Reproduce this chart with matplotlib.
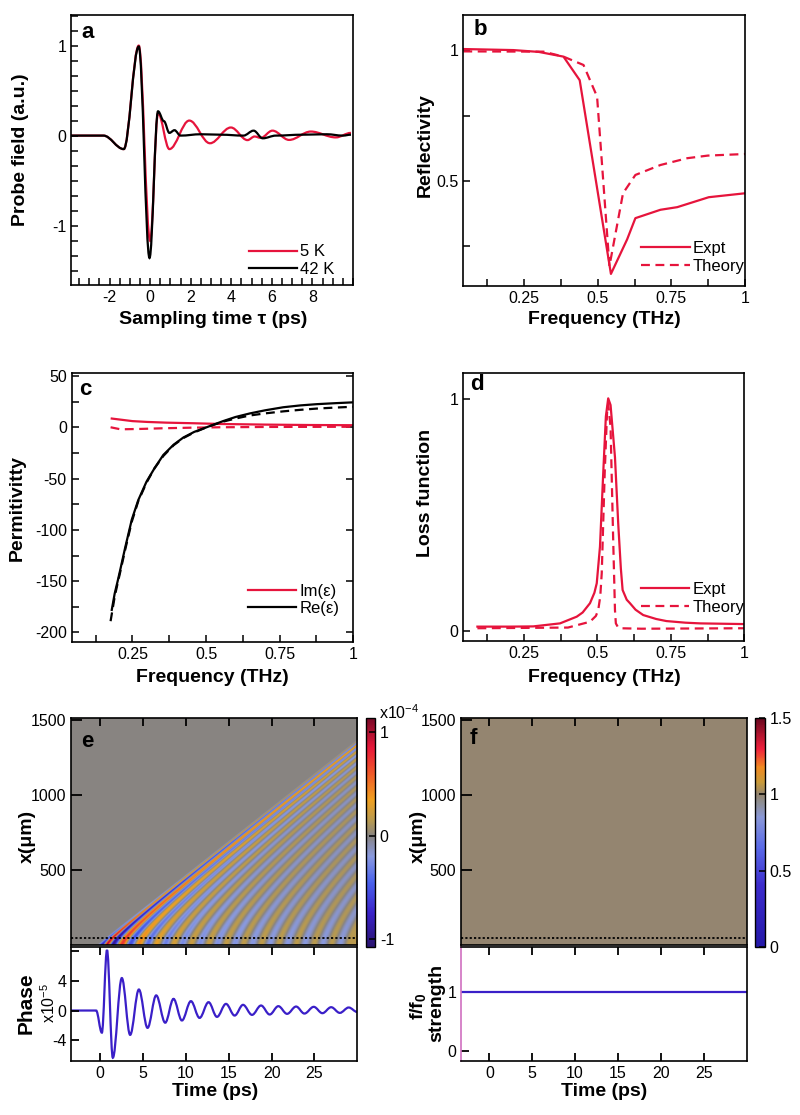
import numpy as np
import matplotlib
matplotlib.use('Agg')
import matplotlib.pyplot as plt
from matplotlib.path import Path
from matplotlib.patches import PathPatch
from matplotlib.lines import Line2D
from matplotlib.colors import LinearSegmentedColormap, Normalize
from matplotlib.ticker import MultipleLocator, FixedLocator, FormatStrFormatter

plt.rcParams['font.family'] = ['Liberation Sans', 'DejaVu Sans']
plt.rcParams['mathtext.fontset'] = 'custom'
plt.rcParams['mathtext.rm'] = 'Liberation Sans'
plt.rcParams['mathtext.bf'] = 'Liberation Sans:bold'
plt.rcParams['axes.unicode_minus'] = False
plt.rcParams['axes.linewidth'] = 1.2
plt.rcParams['xtick.direction'] = 'in'
plt.rcParams['ytick.direction'] = 'in'
plt.rcParams['xtick.labelsize'] = 11.5
plt.rcParams['ytick.labelsize'] = 11.5

RED = '#e6143c'
BLUE = '#3a1fc8'

# ---- panel a: probe field (extrema)
a_t_5K = [-3.9, -2.3, -1.3, -0.56, 0.0, 0.39, 0.95, 1.93, 2.95, 3.98, 4.8, 5.15, 5.45, 6.03, 6.85, 7.92, 9.15, 9.9]
a_v_5K = [0.0, 0.0, -0.15, 1.0, -1.17, 0.25, -0.15, 0.167, -0.085, 0.09, -0.05, -0.01, -0.025, 0.055, -0.048, 0.045, -0.02, 0.03]
a_t_42K = [-3.9, -2.3, -1.3, -0.56, -0.03, 0.39, 0.68, 0.95, 1.2, 1.5, 2.5, 3.5, 4.6, 5.1, 5.55, 6.2, 7.5, 8.7, 9.5, 9.9]
a_v_42K = [0.0, 0.0, -0.15, 0.99, -1.36, 0.27, 0.16, 0.03, 0.06, 0.0, 0.015, 0.01, 0.0, 0.055, -0.03, 0.0, 0.01, 0.015, 0.0, 0.01]

# ---- panel b: reflectivity
b_f_expt = [0.044, 0.214, 0.3, 0.384, 0.439, 0.545, 0.6, 0.628, 0.713, 0.77, 0.877, 1.0]
b_r_expt = [1.004, 1.0, 0.993, 0.975, 0.885, 0.145, 0.277, 0.358, 0.39, 0.40, 0.438, 0.453]
b_f_theory = [0.044, 0.316, 0.384, 0.452, 0.498, 0.54, 0.586, 0.628, 0.713, 0.804, 0.874, 1.0]
b_r_theory = [0.995, 0.994, 0.975, 0.943, 0.822, 0.175, 0.453, 0.523, 0.561, 0.587, 0.597, 0.603]

# ---- panel c: permittivity
c_f_re = [0.18, 0.19, 0.2, 0.208, 0.225, 0.248, 0.27, 0.298, 0.325, 0.355, 0.39, 0.423, 0.46, 0.502, 0.558, 0.6, 0.649, 0.7, 0.762, 0.82, 0.875, 0.94, 1.0]
c_re_expt = [-178, -162, -150, -140, -118, -90, -71, -53, -40, -27, -17, -10, -4.5, 0, 6, 10, 13.5, 16.5, 19.5, 21.3, 22.5, 23.5, 24.3]
c_f_re_th = [0.176, 0.19, 0.2, 0.208, 0.225, 0.248, 0.27, 0.298, 0.325, 0.355, 0.39, 0.423, 0.46, 0.502, 0.558, 0.6, 0.649, 0.7, 0.762, 0.82, 0.875, 0.94, 1.0]
c_re_theory = [-189, -165, -152, -142, -120, -92, -72, -54, -40, -28, -17.5, -10.5, -5, 0, 5.5, 8.5, 11.5, 13.5, 15.5, 17, 18.2, 19.2, 20]
c_f_im = [0.18, 0.25, 0.3, 0.366, 0.46, 0.55, 0.7, 0.85, 1.0]
c_im_expt = [8.5, 6, 5.2, 4.5, 3.9, 3.2, 2.6, 2.2, 2.0]
c_f_im_th = [0.176, 0.21, 0.28, 0.35, 0.45, 0.55, 0.7, 1.0]
c_im_theory = [0, -2, -1.6, -1, -0.4, 0, 0.3, 0.5]

# ---- panel d: loss function
d_f_expt = [0.092, 0.2, 0.282, 0.373, 0.43, 0.45, 0.475, 0.49, 0.498, 0.509, 0.52, 0.529, 0.537, 0.545, 0.56,
            0.571, 0.58, 0.586, 0.6, 0.611, 0.63, 0.656, 0.7, 0.735, 0.8, 0.85, 1.0]
d_l_expt = [0.019, 0.019, 0.02, 0.033, 0.062, 0.08, 0.12, 0.165, 0.206, 0.364, 0.68, 0.925, 1.004, 0.975, 0.75,
            0.465, 0.27, 0.177, 0.135, 0.12, 0.092, 0.069, 0.052, 0.043, 0.036, 0.033, 0.03]
d_f_theory = [0.092, 0.4, 0.475, 0.495, 0.503, 0.51, 0.515, 0.525, 0.533, 0.537, 0.545, 0.554, 0.56, 0.563, 0.57, 0.577, 0.65, 1.0]
d_l_theory = [0.012, 0.015, 0.04, 0.065, 0.09, 0.15, 0.25, 0.68, 0.94, 0.98, 0.88, 0.39, 0.09, 0.033, 0.017, 0.012, 0.01, 0.012]

# ---- panel e: phase trace extrema (x1e-5)
e_t = [-3.4, -0.47, 0.2, 0.8, 1.48, 2.53, 3.5, 4.52, 5.53, 6.54, 7.59, 8.56, 9.54, 10.59, 11.6, 12.65, 13.63, 14.68,
       15.69, 16.67, 17.72, 18.77, 19.78, 20.79, 21.81, 22.86, 23.83, 24.92, 25.93, 26.95, 27.96, 29.0, 30.0]
e_phase = [0, 0, -3.0, 8.2, -6.4, 4.4, -3.3, 2.85, -2.35, 2.05, -1.65, 1.58, -1.35, 1.27, -1.0, 1.13, -0.86, 0.9,
           -0.68, 0.77, -0.59, 0.68, -0.54, 0.59, -0.45, 0.54, -0.41, 0.5, -0.36, 0.45, -0.32, 0.41, -0.2]
# heat map: band times at x=0, band amplitudes (x1e-4), front speed and onset, decay with x
heat_t = [-0.47, 0.2, 0.8, 1.48, 2.53, 3.5, 4.52, 5.53, 6.54, 7.59, 8.56, 9.54, 10.59, 11.6, 12.65, 13.63, 14.68,
          15.69, 16.67, 17.72, 18.77, 19.78, 20.79, 21.81, 22.86, 23.83, 24.92, 25.93, 26.95, 27.96, 29.0]
heat_amp = [0.0, -1.0, 1.0, -0.95, 0.75, -0.55, 0.45, -0.4, 0.32, -0.32, 0.26, -0.27, 0.22, -0.25, 0.2, -0.24,
            0.19, -0.23, 0.18, -0.22, 0.18, -0.21, 0.17, -0.21, 0.17, -0.2, 0.16, -0.2, 0.16, -0.19, 0.16]
front_speed = 45.0   # um/ps
front_onset = -0.5   # ps
front_soft = 0.8     # ps
band_shape = 1.4     # bending of the bands
env_x = [0, 200, 500, 1000, 1500]
env_amp = [1.0, 0.8, 0.65, 0.55, 0.5]
probe_x = 45

# ---- panel f
f_t = [-3.3, 30.0]
f_strength = [1.0, 1.0]


def smooth_curve(ax, t, v, **kw):
    # cubic pieces with flat tangents at each read extremum
    verts = [(t[0], v[0])]
    codes = [Path.MOVETO]
    for i in range(1, len(t)):
        dt = t[i] - t[i - 1]
        verts += [(t[i - 1] + 0.36 * dt, v[i - 1]), (t[i] - 0.36 * dt, v[i]), (t[i], v[i])]
        codes += [Path.CURVE4] * 3
    ax.add_patch(PathPatch(Path(verts, codes), fill=False, **kw))


def halfcos(tq, tk, ak):
    tk = np.asarray(tk)
    ak = np.asarray(ak)
    tq = np.clip(tq, tk[0], tk[-1] - 1e-9)
    i = np.searchsorted(tk, tq, side='right') - 1
    i = np.clip(i, 0, len(tk) - 2)
    fr = (tq - tk[i]) / (tk[i + 1] - tk[i])
    w = (1 - np.cos(np.pi * fr)) / 2
    return ak[i] + (ak[i + 1] - ak[i]) * w


W, H = 800, 1115
fig = plt.figure(figsize=(8, 11.15), dpi=100)


def box(l, t, r, b):
    return [l / W, 1 - b / H, (r - l) / W, (b - t) / H]


def ftext(x, y, s, **kw):
    fig.text(x / W, 1 - y / H, s, **kw)


lab = dict(fontsize=14, fontweight='bold', ha='center', va='center')
let = dict(fontsize=16, fontweight='bold', ha='left', va='top')
leg_kw = dict(frameon=False, fontsize=12, handlelength=2.9, handletextpad=0.2, labelspacing=0.15,
              borderaxespad=0, borderpad=0)

# ---------------- a
ax = fig.add_axes(box(71, 15, 353, 285))
smooth_curve(ax, a_t_5K, a_v_5K, color=RED, lw=1.6)
smooth_curve(ax, a_t_42K, a_v_42K, color='k', lw=1.6)
ax.set_xlim(-3.9, 10)
ax.set_ylim(-1.66, 1.34)
ax.xaxis.set_major_locator(FixedLocator([-2, 0, 2, 4, 6, 8]))
ax.xaxis.set_minor_locator(MultipleLocator(0.5))
ax.yaxis.set_major_locator(FixedLocator([-1, 0, 1]))
ax.yaxis.set_minor_locator(MultipleLocator(1 / 6))
ax.tick_params(which='both', length=5, width=1.1)
ax.legend([Line2D([], [], color=RED, lw=1.6), Line2D([], [], color='k', lw=1.6)], ['5 K', '42 K'],
          loc='lower right', bbox_to_anchor=(0.935, 0.03), **leg_kw)
ftext(20.5, 150, 'Probe field (a.u.)', rotation=90, **lab)
ftext(213, 320, 'Sampling time τ (ps)', **lab)
ftext(81, 22, 'a', **let)

# ---------------- b
ax = fig.add_axes(box(463.3, 15, 745, 285.7))
ax.plot(b_f_expt, b_r_expt, color=RED, lw=1.6)
ax.plot(b_f_theory, b_r_theory, color=RED, lw=1.6, ls=(0, (4, 2.5)))
ax.set_xlim(0.044, 1.0)
ax.set_ylim(0.1, 1.134)
ax.xaxis.set_major_locator(FixedLocator([0.25, 0.5, 0.75, 1.0]))
ax.xaxis.set_minor_locator(MultipleLocator(0.125))
ax.yaxis.set_major_locator(FixedLocator([0.5, 1.0]))
ax.yaxis.set_minor_locator(FixedLocator([0.25, 0.75]))
ax.xaxis.set_major_formatter(FormatStrFormatter('%g'))
ax.yaxis.set_major_formatter(FormatStrFormatter('%g'))
ax.tick_params(which='both', length=5, width=1.1)
ax.legend([Line2D([], [], color=RED, lw=1.6), Line2D([], [], color=RED, lw=1.6, ls=(0, (4, 2.5)))],
          ['Expt', 'Theory'], loc='lower right', bbox_to_anchor=(1.0, 0.045), **leg_kw)
ftext(425.5, 145, 'Reflectivity', rotation=90, **lab)
ftext(604, 320, 'Frequency (THz)', **lab)
ftext(474, 19, 'b', **let)

# ---------------- c
ax = fig.add_axes(box(71.7, 373.3, 353.3, 641.7))
ax.plot(c_f_im, c_im_expt, color=RED, lw=1.6)
ax.plot(c_f_im_th, c_im_theory, color=RED, lw=1.6, ls=(0, (4, 2.5)))
ax.plot(c_f_re, c_re_expt, color='k', lw=1.6)
ax.plot(c_f_re_th, c_re_theory, color='k', lw=1.6, ls=(0, (4, 2.5)))
ax.set_xlim(0.044, 1.0)
ax.set_ylim(-209, 52.6)
ax.xaxis.set_major_locator(FixedLocator([0.25, 0.5, 0.75, 1.0]))
ax.xaxis.set_minor_locator(MultipleLocator(0.125))
ax.yaxis.set_major_locator(MultipleLocator(50))
ax.yaxis.set_minor_locator(MultipleLocator(25))
ax.xaxis.set_major_formatter(FormatStrFormatter('%g'))
ax.tick_params(which='both', length=5, width=1.1)
ax.tick_params(axis='y', which='major', right=True)
ax.legend([Line2D([], [], color=RED, lw=1.6), Line2D([], [], color='k', lw=1.6)], ['Im(ε)', 'Re(ε)'],
          loc='lower right', bbox_to_anchor=(0.952, 0.095), **leg_kw)
ftext(17.5, 508, 'Permitivitty', rotation=90, **lab)
ftext(212.5, 677, 'Frequency (THz)', **lab)
ftext(79, 379, 'c', **let)

# ---------------- d
ax = fig.add_axes(box(463.3, 373.3, 744.3, 641))
ax.plot(d_f_expt, d_l_expt, color=RED, lw=1.6)
ax.plot(d_f_theory, d_l_theory, color=RED, lw=1.6, ls=(0, (4, 2.5)))
ax.set_xlim(0.044, 1.0)
ax.set_ylim(-0.043, 1.112)
ax.xaxis.set_major_locator(FixedLocator([0.25, 0.5, 0.75, 1.0]))
ax.xaxis.set_minor_locator(MultipleLocator(0.125))
ax.yaxis.set_major_locator(FixedLocator([0, 1]))
ax.xaxis.set_major_formatter(FormatStrFormatter('%g'))
ax.tick_params(which='both', length=5, width=1.1)
ax.legend([Line2D([], [], color=RED, lw=1.6), Line2D([], [], color=RED, lw=1.6, ls=(0, (4, 2.5)))],
          ['Expt', 'Theory'], loc='lower right', bbox_to_anchor=(1.0, 0.098), **leg_kw)
ftext(425.5, 492.5, 'Loss function', rotation=90, **lab)
ftext(604.5, 677, 'Frequency (THz)', **lab)
ftext(470, 374, 'd', **let)

# ---------------- e heat map
e_vmin, e_vmax = -1.07, 1.135
e_stops = [-1.07, -0.75, -0.45, -0.2, 0.0, 0.15, 0.35, 0.6, 0.85, 1.135]
e_cols = ['#2a1470', '#3a22c8', '#4a62ec', '#8a9ae0', '#888482', '#b89a50', '#f0a020', '#f05a28', '#e8183a', '#7a0a28']
cmap_e = LinearSegmentedColormap.from_list('e', [((v - e_vmin) / (e_vmax - e_vmin), c) for v, c in zip(e_stops, e_cols)])

tg = np.linspace(-3.4, 30, 1400)
xg = np.linspace(0, 1510, 900)
T, X = np.meshgrid(tg, xg)
tp = T - front_onset
s = X / front_speed
inside = tp > s
tau = np.clip(np.clip(tp, 0, None) ** band_shape - s ** band_shape, 0, None) ** (1 / band_shape) + front_onset
edge = np.clip((tp - s) / front_soft, 0, 1)
field = np.where(inside, halfcos(tau, heat_t, heat_amp), 0.0) * np.interp(X, env_x, env_amp) * edge

ax = fig.add_axes(box(71, 718.3, 357.3, 945))
im = ax.imshow(field, extent=[-3.4, 30, 0, 1510], origin='lower', aspect='auto', cmap=cmap_e,
               norm=Normalize(e_vmin, e_vmax), interpolation='antialiased')
ax.axhline(probe_x, color='k', ls=(0, (1.2, 1.2)), lw=1.3)
ax.set_xlim(-3.4, 30)
ax.set_ylim(0, 1510)
ax.xaxis.set_major_locator(FixedLocator([0, 5, 10, 15, 20, 25]))
ax.yaxis.set_major_locator(FixedLocator([500, 1000, 1500]))
ax.tick_params(axis='x', top=True, bottom=False, labelbottom=False, length=6, width=1.3)
ax.tick_params(axis='y', length=8, width=1.3)
ftext(27, 836, 'x(μm)', rotation=90, **lab)
ftext(81, 731, 'e', **let)

cax = fig.add_axes(box(365.7, 718.3, 375, 946.7))
cb = fig.colorbar(im, cax=cax)
cb.set_ticks([-1, 0, 1])
cb.ax.tick_params(length=4, width=1.1, color='k', labelsize=11.5, direction='in')
cb.outline.set_linewidth(1.0)
ftext(379, 713, 'x10$^{-4}$', fontsize=11.5, ha='left', va='center')

ax = fig.add_axes(box(71, 946.7, 357.3, 1060.7))
smooth_curve(ax, e_t, e_phase, color=BLUE, lw=1.6)
ax.set_xlim(-3.4, 30)
ax.set_ylim(-6.8, 8.65)
ax.xaxis.set_major_locator(FixedLocator([0, 5, 10, 15, 20, 25]))
ax.yaxis.set_major_locator(FixedLocator([-4, 0, 4, 8]))
ax.set_yticklabels(['-4', '0', '4', ''])
ax.tick_params(axis='x', top=True, length=6, width=1.3)
ax.tick_params(axis='y', length=6, width=1.3)
ftext(26, 1003, 'Phase', rotation=90, fontsize=15, fontweight='bold', ha='center', va='center')
ftext(49, 1003, 'x10$^{-5}$', rotation=90, fontsize=11.5, ha='center', va='center')
ftext(215, 1091, 'Time (ps)', **lab)

# ---------------- f heat map
f_stops = [0.0, 0.4, 0.65, 0.85, 0.95, 1.0, 1.08, 1.18, 1.3, 1.5]
f_cols = ['#2418a8', '#3c2ccc', '#5a6ae8', '#8a98d8', '#8e8e90', '#948570', '#c89a3a', '#f08a20', '#f0203c', '#6a0820']
cmap_f = LinearSegmentedColormap.from_list('f', [(v / 1.5, c) for v, c in zip(f_stops, f_cols)])

ax = fig.add_axes(box(461, 718.3, 746.7, 945))
im_f = ax.imshow(np.tile(f_strength, (2, 1)), extent=[f_t[0], f_t[-1], 0, 1510], origin='lower', aspect='auto',
                 cmap=cmap_f, norm=Normalize(0, 1.5))
ax.axhline(probe_x, color='k', ls=(0, (1.2, 1.2)), lw=1.3)
ax.set_xlim(-3.3, 30)
ax.set_ylim(0, 1510)
ax.xaxis.set_major_locator(FixedLocator([0, 5, 10, 15, 20, 25]))
ax.yaxis.set_major_locator(FixedLocator([500, 1000, 1500]))
ax.tick_params(axis='x', top=True, bottom=False, labelbottom=False, length=6, width=1.3)
ax.tick_params(axis='y', length=8, width=1.3)
ftext(418.5, 836, 'x(μm)', rotation=90, **lab)
ftext(470, 728, 'f', **let)

cax = fig.add_axes(box(755, 718.3, 765, 946.7))
cb = fig.colorbar(im_f, cax=cax)
cb.set_ticks([0, 0.5, 1, 1.5])
cb.ax.yaxis.set_major_formatter(FormatStrFormatter('%g'))
cb.ax.tick_params(length=4, width=1.1, color='k', labelsize=11.5, direction='in')
cb.outline.set_linewidth(1.0)

ax = fig.add_axes(box(461, 946.7, 746.7, 1060.7))
ax.plot(f_t, f_strength, color=BLUE, lw=1.6)
ax.set_xlim(-3.3, 30)
ax.set_ylim(-0.164, 1.77)
ax.spines['left'].set_color('#d070c0')
ax.xaxis.set_major_locator(FixedLocator([0, 5, 10, 15, 20, 25]))
ax.yaxis.set_major_locator(FixedLocator([0, 1]))
ax.tick_params(axis='x', top=True, length=6, width=1.3)
ax.tick_params(axis='y', length=6, width=1.3)
ftext(419, 1006, r'f/f$_{\mathbf{0}}$', rotation=90, fontsize=14, fontweight='bold', ha='center', va='center')
ftext(437, 1003, 'strength', rotation=90, **lab)
ftext(604.5, 1091, 'Time (ps)', **lab)

fig.savefig('out.png', dpi=100)
